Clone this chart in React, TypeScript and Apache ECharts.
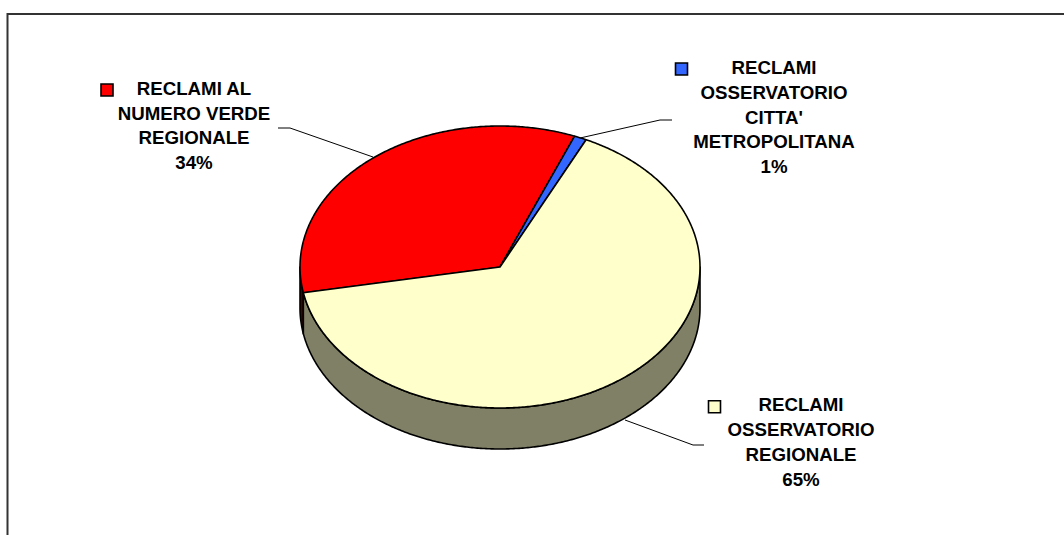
import React, { useEffect, useRef } from "react";
import * as echarts from "echarts";

// ---- data ----
const categories = [
  "RECLAMI AL\nNUMERO VERDE\nREGIONALE",
  "RECLAMI\nOSSERVATORIO\nCITTA'\nMETROPOLITANA",
  "RECLAMI\nOSSERVATORIO\nREGIONALE",
];
const values = [34, 1, 65];
const colors = ["#ff0000", "#3366ff", "#ffffcc"];
const sideColors = ["#4d0000", "#1a3380", "#808066"];

// ---- layout ----
const CX = 500;
const CY = 267;
const RX = 200;
const RY = 141;
const DEPTH = 41;
const START = 259.5; // degrees, clockwise from 12 o'clock

const labelPos = [
  { x: 194, y: 125.5 },
  { x: 774, y: 117 },
  { x: 801, y: 442 },
];
const keyPos = [
  { x: 107, y: 90 },
  { x: 681.5, y: 69 },
  { x: 714.5, y: 406.7 },
];
const leaders = [
  [[278, 128], [290, 128], [373, 157]],
  [[672, 120], [660, 120], [580, 138]],
  [[704, 445], [693, 445], [625, 420]],
];

function sliceAngles(): number[][] {
  const sum = values.reduce((a, b) => a + b, 0);
  let acc = START;
  return values.map((v) => {
    const a0 = acc;
    acc += (v / sum) * 360;
    return [a0, acc];
  });
}

function pt(deg: number, dy = 0): number[] {
  const r = (deg * Math.PI) / 180;
  return [CX + RX * Math.sin(r), CY - RY * Math.cos(r) + dy];
}

function arc(a0: number, a1: number, dy = 0): number[][] {
  const n = Math.max(2, Math.ceil(Math.abs(a1 - a0) * 2));
  const out: number[][] = [];
  for (let i = 0; i <= n; i++) out.push(pt(a0 + ((a1 - a0) * i) / n, dy));
  return out;
}

export default function App() {
  const ref = useRef<HTMLDivElement>(null);
  useEffect(() => {
    if (!ref.current) return;
    const chart = echarts.init(ref.current, undefined, { renderer: "svg" });
    const angs = sliceAngles();
    const sum = values.reduce((a, b) => a + b, 0);
    const font = 'bold 18.7px "Liberation Sans", Arial, sans-serif';

    const graphic: any[] = [
      {
        type: "rect",
        silent: true,
        z: 0,
        shape: { x: 7.5, y: 14, width: 1200, height: 700 },
        style: { fill: "none", stroke: "#333333", lineWidth: 2 },
      },
    ];
    leaders.forEach((pts) => {
      graphic.push({
        type: "polyline",
        silent: true,
        shape: { points: pts },
        style: { stroke: "#000", lineWidth: 1, fill: "none" },
      });
    });
    categories.forEach((c, i) => {
      graphic.push({
        type: "rect",
        silent: true,
        shape: { x: keyPos[i].x - 6, y: keyPos[i].y - 6, width: 12, height: 12 },
        style: { fill: colors[i], stroke: "#000", lineWidth: 1.6 },
      });
      const pct = Math.round((values[i] / sum) * 100);
      graphic.push({
        type: "text",
        silent: true,
        x: labelPos[i].x,
        y: labelPos[i].y,
        style: {
          text: c + "\n" + pct + "%",
          font,
          fill: "#000",
          lineHeight: 24.8,
          align: "center",
          verticalAlign: "middle",
          textAlign: "center",
          textVerticalAlign: "middle",
        },
      });
    });

    chart.setOption({
      animation: false,
      backgroundColor: "#ffffff",
      graphic,
      series: [
        {
          type: "custom",
          name: "sides",
          coordinateSystem: "none",
          silent: true,
          data: values.map((v, i) => ({ value: [v], name: categories[i] })),
          renderItem: (params: any) => {
            const i = params.dataIndex;
            const [a0, a1] = angs[i];
            const children: any[] = [];
            for (let k = -1; k <= 2; k++) {
              const lo = Math.max(a0, 90 + 360 * k);
              const hi = Math.min(a1, 270 + 360 * k);
              if (hi > lo) {
                const pts = arc(lo, hi).concat(arc(hi, lo, DEPTH));
                children.push({
                  type: "polygon",
                  shape: { points: pts },
                  style: {
                    fill: sideColors[i],
                    stroke: "#000",
                    lineWidth: 1.6,
                    lineJoin: "round",
                  },
                });
              }
            }
            return { type: "group", children };
          },
        },
        {
          type: "custom",
          name: "tops",
          coordinateSystem: "none",
          silent: true,
          data: values.map((v, i) => ({ value: [v], name: categories[i] })),
          renderItem: (params: any) => {
            const i = params.dataIndex;
            const [a0, a1] = angs[i];
            const pts = [[CX, CY]].concat(arc(a0, a1));
            return {
              type: "polygon",
              shape: { points: pts },
              style: {
                fill: colors[i],
                stroke: "#000",
                lineWidth: 1.6,
                lineJoin: "round",
              },
            };
          },
        },
      ],
    });
    return () => chart.dispose();
  }, []);
  return (
    <div
      ref={ref}
      style={{ position: "absolute", left: 0, top: 0, width: 1064, height: 535 }}
    />
  );
}
